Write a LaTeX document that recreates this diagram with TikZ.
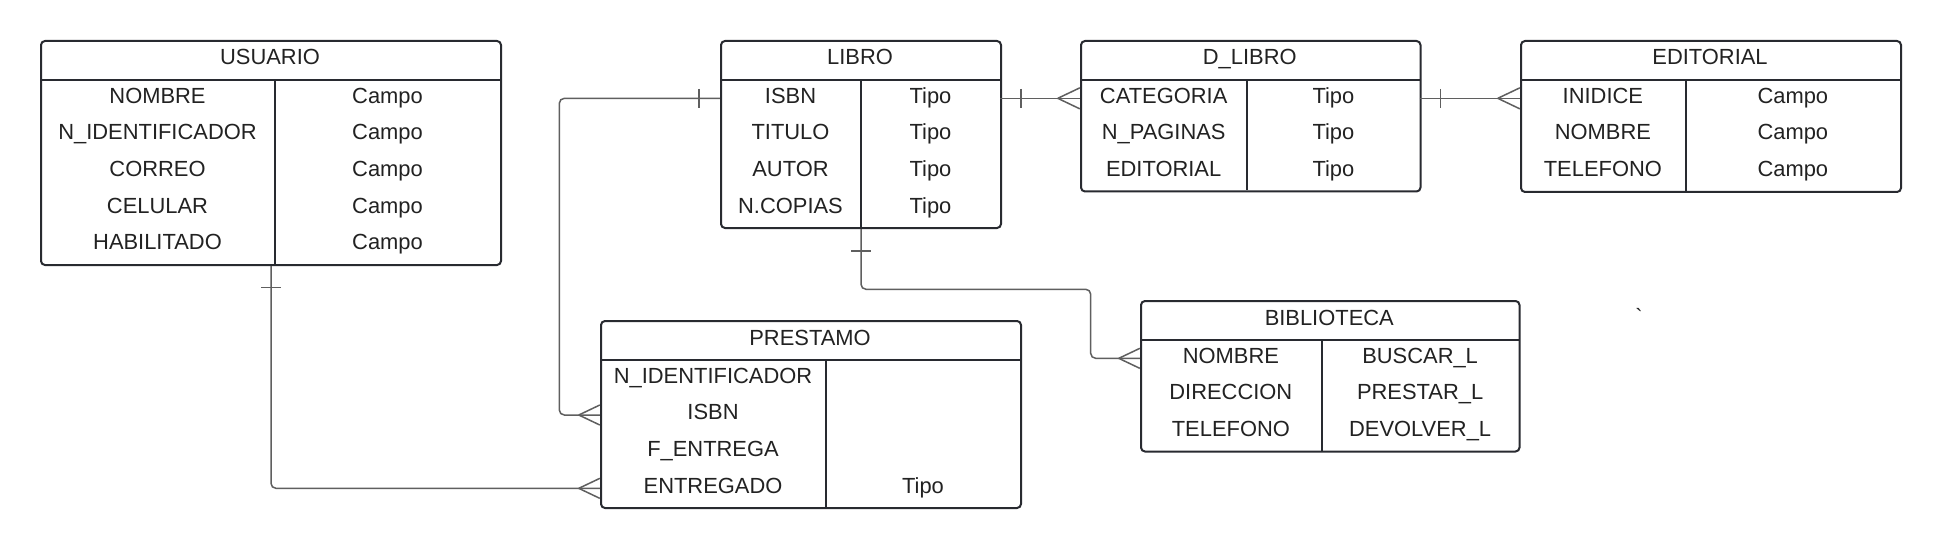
\documentclass[tikz,border=0pt]{standalone}
\usepackage{fontspec}
\setmainfont{Liberation Sans}
\usetikzlibrary{calc}
\definecolor{boxline}{RGB}{40,42,48}
\definecolor{txtcol}{RGB}{34,34,34}
\definecolor{conncol}{RGB}{95,95,95}
\begin{document}
\begin{tikzpicture}[x=1pt,y=-1pt,
  entity/.style={draw=boxline, line width=2pt, rounded corners=4pt, inner sep=0pt, anchor=north west},
  sepline/.style={draw=boxline, line width=2pt},
  titletext/.style={anchor=base, text=txtcol, font=\fontsize{21.9}{26}\selectfont, inner sep=0pt},
  cell/.style={text=txtcol, font=\fontsize{21.9}{26}\selectfont, inner sep=0pt, text height=15.7pt, text depth=6pt, minimum height=36.67pt},
  conn/.style={draw=conncol, line width=1.5pt, rounded corners=5pt},
  tickmark/.style={draw=conncol, line width=1.5pt}
]
\useasboundingbox[fill=white] (0,0) rectangle (1940,548);

% ---------- USUARIO ----------
\node[entity, minimum width=460pt, minimum height=224pt] (usuario) at (40,40) {};
\draw[sepline] (40,80) -- (500,80);
\draw[sepline] (275,80) -- (275,264);
\node[titletext] (usuario-title) at (270,65) {USUARIO};
\foreach \i/\a/\b in {1/NOMBRE/Campo, 2/N\_IDENTIFICADOR/Campo, 3/CORREO/Campo, 4/CELULAR/Campo, 5/HABILITADO/Campo}{
  \node[cell, minimum width=235pt] (usuario-r\i) at (157.5,{80+(\i-0.5)*36.67}) {\a};
  \node[cell, minimum width=225pt] (usuario-t\i) at (387.5,{80+(\i-0.5)*36.67}) {\b};
}

% ---------- LIBRO ----------
\node[entity, minimum width=280pt, minimum height=187pt] (libro) at (720,40) {};
\draw[sepline] (720,80) -- (1000,80);
\draw[sepline] (861,80) -- (861,227);
\node[titletext] (libro-title) at (860,65) {LIBRO};
\foreach \i/\a/\b in {1/ISBN/Tipo, 2/TITULO/Tipo, 3/AUTOR/Tipo, 4/N.COPIAS/Tipo}{
  \node[cell, minimum width=141pt] (libro-r\i) at (790.5,{80+(\i-0.5)*36.67}) {\a};
  \node[cell, minimum width=139pt] (libro-t\i) at (930.5,{80+(\i-0.5)*36.67}) {\b};
}

% ---------- D_LIBRO ----------
\node[entity, minimum width=339.5pt, minimum height=150.5pt] (dlibro) at (1080,40) {};
\draw[sepline] (1080,80) -- (1419.5,80);
\draw[sepline] (1247.3,80) -- (1247.3,190.5);
\node[titletext] (dlibro-title) at (1249.75,65) {D\_LIBRO};
\foreach \i/\a/\b in {1/CATEGORIA/Tipo, 2/N\_PAGINAS/Tipo, 3/EDITORIAL/Tipo}{
  \node[cell, minimum width=167.3pt] (dlibro-r\i) at (1163.65,{80+(\i-0.5)*36.67}) {\a};
  \node[cell, minimum width=172.2pt] (dlibro-t\i) at (1333.4,{80+(\i-0.5)*36.67}) {\b};
}

% ---------- EDITORIAL ----------
\node[entity, minimum width=380pt, minimum height=151pt] (editorial) at (1520,40) {};
\draw[sepline] (1520,80) -- (1900,80);
\draw[sepline] (1685.7,80) -- (1685.7,191);
\node[titletext] (editorial-title) at (1710,65) {EDITORIAL};
\foreach \i/\a/\b in {1/INIDICE/Campo, 2/NOMBRE/Campo, 3/TELEFONO/Campo}{
  \node[cell, minimum width=165.7pt] (editorial-r\i) at (1602.85,{80+(\i-0.5)*36.67}) {\a};
  \node[cell, minimum width=214.3pt] (editorial-t\i) at (1792.85,{80+(\i-0.5)*36.67}) {\b};
}

% ---------- PRESTAMO ----------
\node[entity, minimum width=420pt, minimum height=187pt] (prestamo) at (600,320) {};
\draw[sepline] (600,360) -- (1020,360);
\draw[sepline] (826,360) -- (826,507);
\node[titletext] (prestamo-title) at (810,345) {PRESTAMO};
\foreach \i/\a/\b in {1/N\_IDENTIFICADOR/{}, 2/ISBN/{}, 3/F\_ENTREGA/{}, 4/ENTREGADO/Tipo}{
  \node[cell, minimum width=226pt] (prestamo-r\i) at (713,{360+(\i-0.5)*36.67}) {\a};
  \node[cell, minimum width=194pt] (prestamo-t\i) at (923,{360+(\i-0.5)*36.67}) {\b};
}

% ---------- BIBLIOTECA ----------
\node[entity, minimum width=378.5pt, minimum height=150.5pt] (biblioteca) at (1140,300) {};
\draw[sepline] (1140,340) -- (1518.5,340);
\draw[sepline] (1321.7,340) -- (1321.7,450.5);
\node[titletext] (biblioteca-title) at (1329.25,325) {BIBLIOTECA};
\foreach \i/\a/\b in {1/NOMBRE/BUSCAR\_L, 2/DIRECCION/PRESTAR\_L, 3/TELEFONO/DEVOLVER\_L}{
  \node[cell, minimum width=181.7pt] (biblioteca-r\i) at (1230.85,{340+(\i-0.5)*36.67}) {\a};
  \node[cell, minimum width=196.8pt] (biblioteca-t\i) at (1420.1,{340+(\i-0.5)*36.67}) {\b};
}

% stray backtick
\node[titletext] (tick) at (1639,324) {\XeTeXglyph\XeTeXcharglyph"60};

% ---------- connectors ----------
\coordinate (bendA) at (559.3,0);
\coordinate (bendB) at (1090.7,289.3);

% USUARIO -> PRESTAMO
\draw[conn] (usuario.south) |- (prestamo-r4.west);
\draw[tickmark] ($(usuario.south)+(-10,21.5)$) -- ++(20,0);
\draw[tickmark] ($(prestamo-r4.west)+(-21,0)$) -- ++(21,-10);
\draw[tickmark] ($(prestamo-r4.west)+(-21,0)$) -- ++(21,10);

% LIBRO -> PRESTAMO
\draw[conn] (libro-r1.west) -- (bendA |- libro-r1.west) |- (prestamo-r2.west);
\draw[tickmark] ($(libro-r1.west)+(-21,-9.5)$) -- ++(0,19);
\draw[tickmark] ($(prestamo-r2.west)+(-21,0)$) -- ++(21,-10);
\draw[tickmark] ($(prestamo-r2.west)+(-21,0)$) -- ++(21,10);

% LIBRO -> BIBLIOTECA
\draw[conn] (libro.south) |- (bendB) |- (biblioteca-r1.west);
\draw[tickmark] ($(libro.south)+(-10,22)$) -- ++(20,0);
\draw[tickmark] ($(biblioteca-r1.west)+(-21,0)$) -- ++(21,-10);
\draw[tickmark] ($(biblioteca-r1.west)+(-21,0)$) -- ++(21,10);

% LIBRO -> D_LIBRO
\draw[conn] (libro-t1.east) -- (dlibro-r1.west);
\draw[tickmark] ($(libro-t1.east)+(20.7,-9.5)$) -- ++(0,19);
\draw[tickmark] ($(dlibro-r1.west)+(-22,0)$) -- ++(22,-10.5);
\draw[tickmark] ($(dlibro-r1.west)+(-22,0)$) -- ++(22,10.5);

% D_LIBRO -> EDITORIAL
\draw[conn] (dlibro-t1.east) -- (editorial-r1.west);
\draw[tickmark] ($(dlibro-t1.east)+(21,-9.5)$) -- ++(0,19);
\draw[tickmark] ($(editorial-r1.west)+(-22,0)$) -- ++(22,-10.5);
\draw[tickmark] ($(editorial-r1.west)+(-22,0)$) -- ++(22,10.5);
\end{tikzpicture}
\end{document}
